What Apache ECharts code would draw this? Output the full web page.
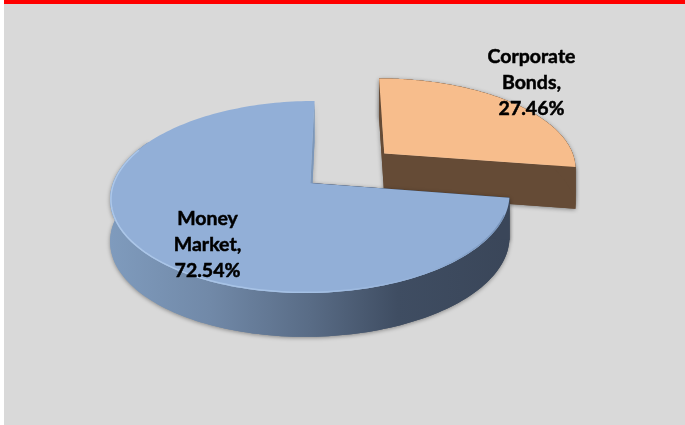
<!DOCTYPE html>
<html>
<head>
<meta charset="utf-8">
<style>html,body{margin:0;padding:0;background:#fff}#c{width:685px;height:425px}</style>
<script src="https://cdn.jsdelivr.net/npm/echarts@6/dist/echarts.min.js"></script>
</head>
<body>
<div id="c"></div>
<script>
const categories = ['Corporate Bonds', 'Money Market'];
const values = [27.46, 72.54];
const faceColors = ['#f7bd8c', '#92afd7'];
const explode = [0.505, 0];
const labelAnchors = [[531.5, 83], [207.5, 245]];

// perspective projection of the unit disc (u right, v away from the viewer)
const X0 = 310.5, Y0 = 183, SX = 197.5, SY = 94, SHEAR = 4.6, K = 0.146;
const project = (u, v) => {
  const d = 1 + K * v;
  return [X0 + (SX * u + SHEAR * v) / d, Y0 - SY * v / d];
};
const depth = v => 42 / (1 + 0.04 * v);

const total = values.reduce((a, b) => a + b, 0);
const slices = [];
values.reduce((start, v, i) => {
  const end = start + v / total * Math.PI * 2;
  slices.push({ start, end });
  return end;
}, 0);

function renderItem(params, api) {
  const i = params.dataIndex;
  const { start, end } = slices[i];
  const mid = (start + end) / 2;
  const ox = Math.sin(mid) * explode[i], oy = Math.cos(mid) * explode[i];
  const disc = [];
  const steps = 180;
  for (let s = 0; s <= steps; s++) {
    const t = start + (end - start) * s / steps;
    disc.push([ox + Math.sin(t), oy + Math.cos(t), t]);
  }
  const arc = disc.map(p => project(p[0], p[1]));
  const down = p => { const q = project(p[0], p[1]); return [q[0], q[1] + depth(p[1])]; };
  const apex = [ox, oy];
  const apexP = project(ox, oy);
  const isBlue = i === 1;
  const wallFill = isBlue ? {
    type: 'linear', global: true, x: 110, y: 0, x2: 510, y2: 0,
    colorStops: [
      { offset: 0, color: '#7f9bbd' }, { offset: 0.25, color: '#7189a8' },
      { offset: 0.5, color: '#596c86' }, { offset: 0.72, color: '#3f4d62' },
      { offset: 1, color: '#3a4659' }
    ]
  } : '#654b36';
  const shadow = { shadowColor: 'rgba(0,0,0,0.4)', shadowBlur: 4, shadowOffsetY: 1, shadowOffsetX: 0 };
  const radial = (p, fill, extra) => ({
    type: 'polygon',
    shape: { points: [apexP, project(p[0], p[1]), down(p), down(apex)] },
    style: Object.assign({ fill }, extra)
  });
  const outerDisc = isBlue ? disc.filter(p => p[2] < 5.2) : disc;
  const outerPts = outerDisc.map(p => project(p[0], p[1]));
  const outer = extra => ({
    type: 'polygon',
    shape: { points: outerPts.concat(outerDisc.map(down).reverse()) },
    style: Object.assign({ fill: wallFill }, extra)
  });
  const sideA = isBlue ? '#7c97ba' : '#654b36';
  const sideB = isBlue ? '#3a4659' : '#654b36';
  const kids = [];
  // walls with their soft shadow first, then the same walls clean on top
  kids.push(radial(disc[steps], sideA, shadow));
  kids.push(radial(disc[0], sideB, shadow));
  kids.push(outer(shadow));
  kids.push(radial(disc[steps], sideA, {}));
  kids.push(outer({}));
  kids.push(radial(disc[0], sideB, {}));
  // top face
  kids.push({
    type: 'polygon',
    shape: { points: [apexP].concat(arc) },
    style: { fill: faceColors[i] }
  });
  if (isBlue) {
    const rim = disc.filter(p => p[2] > 1.9 && p[2] < 5.1).map(p => {
      const q = project(p[0], p[1]);
      const c = [X0, 197];
      return [q[0] + (c[0] - q[0]) * 0.004, q[1] + (c[1] - q[1]) * 0.008];
    });
    kids.push({
      type: 'polyline',
      shape: { points: rim },
      style: {
        fill: null, lineWidth: 1.5,
        stroke: {
          type: 'linear', global: true, x: 110, y: 0, x2: 510, y2: 0,
          colorStops: [
            { offset: 0, color: '#acc7e9' }, { offset: 0.5, color: '#a4c0e4' },
            { offset: 0.8, color: '#92afd7' }, { offset: 1, color: '#7490b6' }
          ]
        }
      }
    });
  }
  const lines = categories[i].split(' ');
  lines[lines.length - 1] += ',';
  lines.push(api.value(0).toFixed(2) + '%');
  kids.push({
    type: 'text',
    z2: 10,
    style: {
      x: labelAnchors[i][0], y: labelAnchors[i][1],
      text: lines.join('\n'),
      fontFamily: 'Lato', fontWeight: 'bold', fontSize: 19.5, lineHeight: 26,
      fill: '#000', stroke: '#000', lineWidth: 0.5, align: 'center', verticalAlign: 'middle'
    }
  });
  return { type: 'group', children: kids };
}

const chart = echarts.init(document.getElementById('c'), null, { renderer: 'canvas' });
chart.setOption({
  animation: false,
  backgroundColor: '#d9d9d9',
  graphic: [
    { type: 'rect', shape: { x: 0, y: 0, width: 4, height: 425 }, style: { fill: '#fff' }, silent: true },
    { type: 'rect', shape: { x: 4, y: 0, width: 681, height: 4 }, style: { fill: '#ff0000' }, silent: true }
  ],
  series: [{
    type: 'custom',
    coordinateSystem: 'none',
    renderItem,
    data: values.map((v, i) => ({ name: categories[i], value: [v] }))
  }]
});
</script>
</body>
</html>
